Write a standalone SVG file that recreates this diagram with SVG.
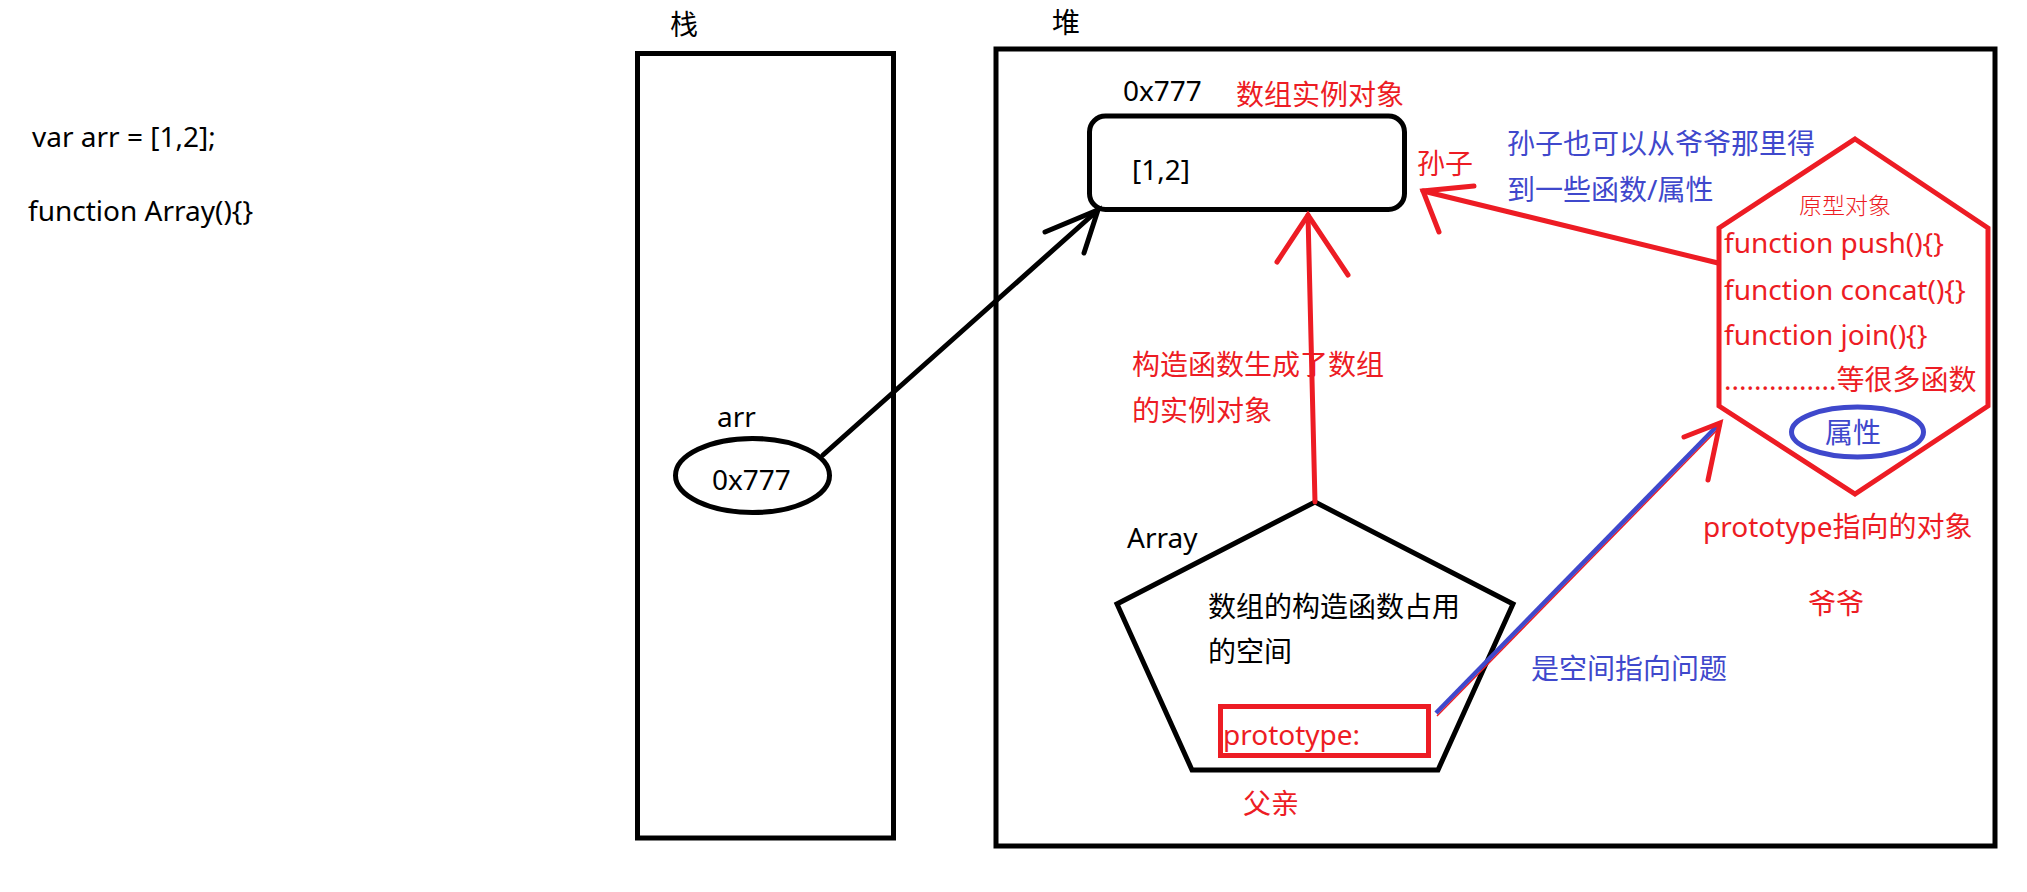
<svg xmlns="http://www.w3.org/2000/svg" width="2027" height="892" viewBox="0 0 2027 892">
<style>
text{font-family:"Noto Sans","Noto Sans CJK SC",sans-serif;font-size:28px;fill:#000}
.r{fill:#ed1c24}
.b{fill:#3f48cc}
.sk{fill:none;stroke:#000;stroke-width:5}
.sr{fill:none;stroke:#ed1c24;stroke-width:5;stroke-linecap:round;stroke-linejoin:miter}
.sb{fill:none;stroke:#3f48cc;stroke-width:5}
.ln{fill:none;stroke:#000;stroke-width:5;stroke-linecap:round}
</style>
<rect width="2027" height="892" fill="#fff"/>
<g id="code">
<text x="32" y="147">var arr = [1,2];</text>
<text x="28" y="221">function Array(){}</text>
</g>
<g id="stack">
<text x="670" y="35">栈</text>
<rect class="sk" x="637.5" y="53.5" width="256" height="784.5"/>
</g>
<g id="heap">
<text x="1052" y="33">堆</text>
<rect class="sk" x="996" y="49" width="999" height="797"/>
</g>
<g id="arr-var">
<text x="717" y="427">arr</text>
<ellipse class="sk" cx="752.5" cy="475.5" rx="77" ry="37"/>
<text x="712" y="490">0x777</text>
</g>
<g id="instance">
<text x="1123" y="101">0x777</text>
<text class="r" x="1236" y="105">数组实例对象</text>
<rect class="sk" x="1089.5" y="116" width="315" height="93.5" rx="16" ry="16"/>
<text x="1132" y="180">[1,2]</text>
<text class="r" x="1417" y="174">孙子</text>
</g>
<g id="note-sun">
<text class="b" x="1507" y="154">孙子也可以从爷爷那里得</text>
<text class="b" x="1507" y="200">到一些函数/属性</text>
</g>
<g id="prototype-obj">
<polygon class="sr" points="1855,139 1988,228 1988,406 1855,494 1719,406 1719,228"/>
<text class="r" x="1799" y="214" style="font-size:23px;font-weight:300">原型对象</text>
<text class="r" x="1724" y="253">function push(){}</text>
<text class="r" x="1724" y="300">function concat(){}</text>
<text class="r" x="1724" y="345">function join(){}</text>
<text class="r" x="1724" y="390">...............等很多函数</text>
<ellipse class="sb" cx="1857.5" cy="432" rx="66" ry="25"/>
<text class="b" x="1825" y="443">属性</text>
<text class="r" x="1703" y="537">prototype指向的对象</text>
<text class="r" x="1808" y="614">爷爷</text>
</g>
<g id="constructor">
<polygon class="sk" points="1315,502 1513,604 1438,770 1192,770 1117,604"/>
<text x="1127" y="548">Array</text>
<text x="1208" y="617">数组的构造函数占用</text>
<text x="1208" y="662">的空间</text>
<rect x="1220.5" y="706.5" width="208" height="49" fill="none" stroke="#ed1c24" stroke-width="5"/>
<text class="r" x="1223" y="745">prototype:</text>
<text class="r" x="1243" y="814">父亲</text>
</g>
<g id="labels">
<text class="r" x="1132" y="375">构造函数生成了数组</text>
<text class="r" x="1132" y="421">的实例对象</text>
<text class="b" x="1531" y="679">是空间指向问题</text>
</g>
<g id="connectors">
<polyline class="ln" points="823,455 1098,210"/>
<polyline class="ln" points="1045,232 1098,210 1084,253"/>
<polyline class="sr" points="1315,502 1308,215"/>
<polyline class="sr" points="1277,262 1308,215 1348,275"/>
<polyline class="sr" points="1718,263 1423,191"/>
<polyline class="sr" points="1474,186 1423,191 1439,232"/>
<line x1="1437" y1="716" x2="1721" y2="426" stroke="#ed1c24" stroke-width="1.5"/>
<line x1="1436" y1="713" x2="1720" y2="423" stroke="#3f48cc" stroke-width="4.5"/>
<polyline class="sr" points="1684,437 1720,423 1708,480"/>
</g>
</svg>
